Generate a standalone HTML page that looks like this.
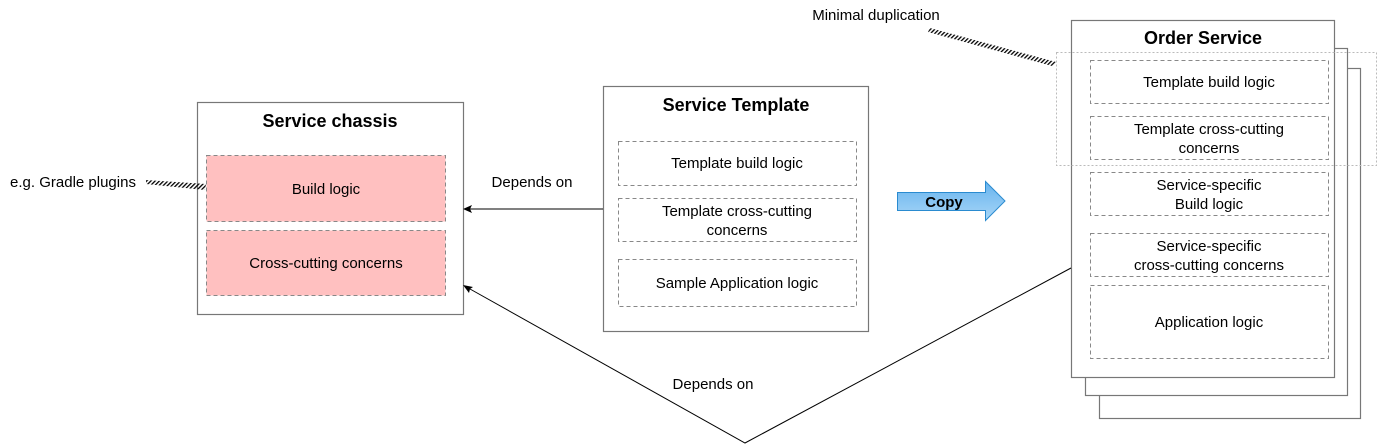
<!DOCTYPE html>
<html><head><meta charset="utf-8"><style>
html,body{margin:0;padding:0;background:#fff;}
svg{display:block;font-family:"Liberation Sans",Helvetica,Arial,sans-serif;}
</style></head><body>
<svg width="1377" height="445" viewBox="0 0 1377 445" xmlns="http://www.w3.org/2000/svg">
<defs>
<linearGradient id="g" x1="0" y1="0" x2="0" y2="1"><stop offset="0" stop-color="#66b3ee"/><stop offset="1" stop-color="#a8d6f7"/></linearGradient>
<pattern id="hatch" width="3" height="3" patternUnits="userSpaceOnUse" patternTransform="rotate(45)"><rect width="1.3" height="3" fill="#000"/></pattern>
</defs>
<g fill="#fff" stroke="#777" stroke-width="1.2">
<rect x="197.5" y="102.5" width="266" height="212"/>
<rect x="603.5" y="86.5" width="265" height="245"/>
<rect x="1099.5" y="68.5" width="261" height="350"/>
<rect x="1085.5" y="48.5" width="262" height="347"/>
<rect x="1071.5" y="20.5" width="263" height="357"/>
</g>
<g stroke="#888" stroke-dasharray="4 3" stroke-width="1">
<rect x="206.5" y="155.5" width="239" height="66" fill="#ffc0c0"/>
<rect x="206.5" y="230.5" width="239" height="65" fill="#ffc0c0"/>
<g fill="none">
<rect x="618.5" y="141.5" width="238" height="44"/>
<rect x="618.5" y="198.5" width="238" height="43"/>
<rect x="618.5" y="259.5" width="238" height="47"/>
<rect x="1090.5" y="60.5" width="238" height="43"/>
<rect x="1090.5" y="116.5" width="238" height="43"/>
<rect x="1090.5" y="172.5" width="238" height="43"/>
<rect x="1090.5" y="233.5" width="238" height="43"/>
<rect x="1090.5" y="285.5" width="238" height="73"/>
</g></g>
<rect x="1056.5" y="52.5" width="320" height="113" fill="none" stroke="#bbb" stroke-dasharray="2 2"/>
<!-- hatched callouts -->
<polygon points="930,28 1056,62 1052,66 928,32" fill="url(#hatch)"/>
<polygon points="146,180 206,184 205,190 146,184" fill="url(#hatch)"/>
<!-- arrows -->
<line x1="603" y1="209" x2="470" y2="209" stroke="#000"/>
<polygon points="463,209 472,205 470,209 472,213" fill="#000"/>
<polyline points="1071,268 745,443 470,289" fill="none" stroke="#000"/>
<polygon points="463,285 473,287 470,289 469,293" fill="#000"/>
<!-- copy arrow -->
<polygon points="897.5,192.5 985.5,192.5 985.5,181.5 1005,201 985.5,220.5 985.5,210.5 897.5,210.5" fill="url(#g)" stroke="#2a8bd0"/>
<g font-size="15" text-anchor="middle" fill="#000">
<text x="330" y="127" font-weight="bold" font-size="18">Service chassis</text>
<text x="736" y="111" font-weight="bold" font-size="18">Service Template</text>
<text x="1203" y="44" font-weight="bold" font-size="18">Order Service</text>
<text x="944" y="207" font-weight="bold" font-size="15">Copy</text>
<text x="326" y="194">Build logic</text>
<text x="326" y="268">Cross-cutting concerns</text>
<text x="737" y="168">Template build logic</text>
<text x="737" y="216">Template cross-cutting</text>
<text x="737" y="235">concerns</text>
<text x="737" y="288">Sample Application logic</text>
<text x="1209" y="87">Template build logic</text>
<text x="1209" y="134">Template cross-cutting</text>
<text x="1209" y="153">concerns</text>
<text x="1209" y="190">Service-specific</text>
<text x="1209" y="209">Build logic</text>
<text x="1209" y="251">Service-specific</text>
<text x="1209" y="270">cross-cutting concerns</text>
<text x="1209" y="327">Application logic</text>
<text x="532" y="187">Depends on</text>
<text x="713" y="389">Depends on</text>
<text x="876" y="20">Minimal duplication</text>
<text x="73" y="187">e.g. Gradle plugins</text>
</g>
</svg>
</body></html>
